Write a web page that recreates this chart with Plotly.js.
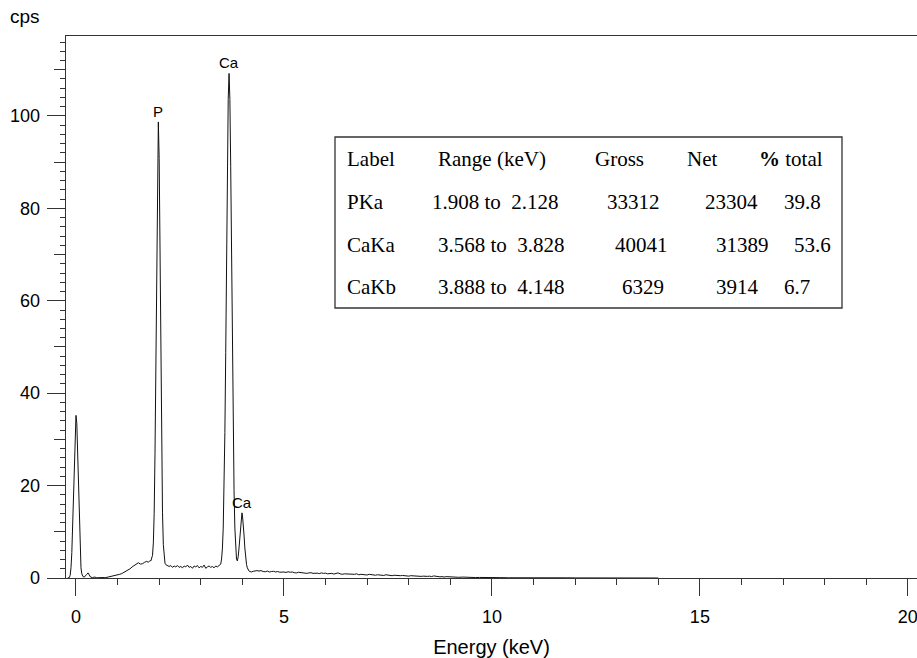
<!DOCTYPE html>
<html>
<head>
<meta charset="utf-8">
<script src="https://cdn.plot.ly/plotly-3.0.1.min.js"></script>
<style>html,body{margin:0;padding:0;background:#fff;}#chart{width:917px;height:658px;}</style>
</head>
<body>
<div id="chart"></div>
<script>
// ---- spectrum data ----
const energyKeV = [
 -0.20,-0.16,-0.14,-0.12,-0.10,-0.08,-0.06,-0.04,-0.02,0.00,0.02,0.04,0.06,0.08,0.10,0.12,0.14,0.17,0.20,0.23,0.26,0.29,0.32,0.35,0.40,0.45,0.50,0.55,0.60,0.65,0.70,0.75,0.80,0.85,0.90,0.95,
 1.00,1.05,1.10,1.15,1.20,1.25,1.30,1.35,1.40,1.45,1.50,1.55,1.60,1.65,1.70,1.74,1.78,1.80,1.82,1.84,1.86,1.88,1.90,1.92,1.94,1.96,1.98,2.00,2.02,2.04,2.06,2.08,2.10,2.12,2.14,2.17,
 2.20,2.24,2.28,2.32,2.36,2.40,2.44,2.48,2.52,2.56,2.60,2.64,2.68,2.72,2.76,2.80,2.84,2.88,2.92,2.96,3.00,3.04,3.08,3.12,3.16,3.20,3.24,3.28,3.32,3.36,3.40,3.44,3.48,
 3.50,3.52,3.54,3.56,3.58,3.60,3.62,3.64,3.66,3.68,3.70,3.72,3.74,3.76,3.78,3.80,3.82,3.84,3.86,3.88,3.90,3.92,3.94,3.96,3.98,3.99,4.00,4.02,4.04,4.06,4.08,4.10,4.12,4.14,4.16,
 4.18,4.22,4.26,4.30,4.35,4.40,4.45,4.50,4.55,4.60,4.65,4.70,4.75,4.80,4.85,4.90,4.95,5.00,5.05,5.10,5.15,5.20,5.25,5.30,5.35,5.40,5.45,5.50,5.55,5.60,5.65,5.70,5.75,5.80,5.85,5.90,5.95,
 6.00,6.05,6.10,6.15,6.20,6.25,6.30,6.35,6.40,6.45,6.50,6.55,6.60,6.65,6.70,6.75,6.80,6.85,6.90,6.95,7.00,7.05,7.10,7.15,7.20,7.25,7.30,7.35,7.40,7.45,7.50,7.55,7.60,7.65,7.70,7.75,7.80,7.85,7.90,7.95,
 8.00,8.05,8.10,8.15,8.20,8.25,8.30,8.35,8.40,8.45,8.50,8.55,8.60,8.65,8.70,8.75,8.80,8.85,8.90,8.95,9.00,9.10,9.20,9.30,9.40,9.50,9.60,9.70,9.80,9.90,
 10.0,10.2,10.4,10.6,10.8,11.0,11.2,11.4,11.6,11.8,12.0,12.3,12.6,13.0,13.4,13.8,14.0
];
const countsCps = [
 0,0.1,0.6,2.2,5.5,11,18,26,32.5,35.2,33.5,27,18.5,10.5,5,2.2,0.9,0.3,0.2,0.4,0.8,1.1,0.5,0.2,0.1,0.2,0.05,0.1,0.0,0.1,0.05,0.15,0.2,0.3,0.35,0.5,
 0.6,0.8,0.95,1.2,1.4,1.7,2.0,2.4,2.7,3.1,3.3,3.0,3.1,3.4,3.6,3.4,3.8,3.7,4.3,4.9,7.6,14,27,47,70.6,90.8,98.7,90.8,70.6,46.8,27,14.1,7.2,4.3,3.2,2.8,
 2.6,2.5,2.7,2.3,2.6,2.4,2.7,2.3,2.5,2.2,2.6,2.4,2.8,2.3,2.5,2.1,2.6,2.4,2.7,2.2,2.5,2.3,2.8,2.1,2.4,2.6,2.3,2.5,2.2,2.6,2.4,2.8,3.0,
 4.1,6.3,10.8,18.9,31.5,48.8,69.2,89,103.6,109.2,103.6,89,69.2,48.8,31.5,18.9,10.8,6.3,4.0,3.7,4.6,6.5,9.3,12,13.8,14.1,13.8,12,9.3,6.5,4.4,2.9,2.2,1.8,1.5,
 1.4,1.3,1.45,1.55,1.6,1.5,1.6,1.4,1.35,1.5,1.3,1.4,1.45,1.3,1.4,1.25,1.35,1.3,1.2,1.35,1.25,1.3,1.15,1.1,1.25,1.2,1.05,1.15,1.0,1.1,1.15,1.0,1.1,1.05,0.95,1.1,1.0,
 1.05,0.9,0.95,1.0,0.85,0.95,1.1,0.9,0.8,0.9,0.85,0.95,0.75,0.85,0.8,0.9,0.7,0.8,0.75,0.7,0.65,0.8,0.7,0.75,0.6,0.7,0.65,0.6,0.55,0.7,0.6,0.55,0.5,0.6,0.55,0.45,0.5,0.55,0.45,0.5,
 0.4,0.5,0.45,0.35,0.45,0.4,0.35,0.4,0.3,0.35,0.4,0.3,0.45,0.35,0.3,0.25,0.3,0.2,0.3,0.25,0.2,0.25,0.15,0.2,0.12,0.15,0.1,0.12,0.08,0.1,
 0.06,0.08,0.05,0.07,0.04,0.06,0.03,0.05,0.02,0.04,0.02,0.03,0.01,0.02,0.01,0.02,0
];

// peak labels
const peakLabels = ['P', 'Ca', 'Ca'];
const peakEnergy = [1.98, 3.68, 3.99];
const peakCps = [98.7, 109.2, 14.1];

// axis titles
const xTitle = 'Energy (keV)';
const yTitle = 'cps';

// quantification table
const tableHeader = ['Label', 'Range (keV)', 'Gross', 'Net', '<b>%</b> total'];
const lineLabel = ['PKa', 'CaKa', 'CaKb'];
const rangeLo = ['1.908', '3.568', '3.888'];
const rangeHi = ['2.128', '3.828', '4.148'];
const grossCounts = ['33312', '40041', '6329'];
const netCounts = ['23304', '31389', '3914'];
const pctTotal = ['39.8', '53.6', '6.7'];

// ---- layout geometry (pixels) ----
const W = 917, H = 658, ML = 66, MR = 0, MT = 36, MB = 80;
const px = v => (v - ML) / (W - ML - MR);
const py = v => (H - MB - v) / (H - MT - MB);
const headerX = [345, 436, 593, 685, 757];
const headerY = 159;
const rowY = [202, 245, 287];
const cellX = [[345, 430, 605, 703, 782], [345, 436, 613, 714, 792], [345, 436, 620, 714, 782]];

const sansFont = 'Liberation Sans, Arial, sans-serif';
const serifFont = 'Liberation Serif, Times New Roman, serif';
const axisCol = '#333';
const tableSize = 21;

const annotations = [];
peakLabels.forEach((t, i) => annotations.push({
  x: peakEnergy[i], y: peakCps[i], xref: 'x', yref: 'y', text: t, showarrow: false,
  xanchor: 'center', yanchor: 'bottom', yshift: 0, font: {family: sansFont, size: 15, color: '#000'}
}));
annotations.push({x: px(8), y: py(16), xref: 'paper', yref: 'paper', text: yTitle, showarrow: false,
  xanchor: 'left', yanchor: 'middle', font: {family: sansFont, size: 19, color: '#000'}});
tableHeader.forEach((t, j) => annotations.push({
  x: px(headerX[j]), y: py(headerY), xref: 'paper', yref: 'paper', text: t, showarrow: false,
  xanchor: 'left', yanchor: 'middle', font: {family: serifFont, size: tableSize, color: '#000'}
}));
lineLabel.forEach((lab, i) => {
  const cells = [lab, rangeLo[i] + ' to\u00a0\u00a0' + rangeHi[i], grossCounts[i], netCounts[i], pctTotal[i]];
  cells.forEach((t, j) => annotations.push({
    x: px(cellX[i][j]), y: py(rowY[i]), xref: 'paper', yref: 'paper', text: t, showarrow: false,
    xanchor: 'left', yanchor: 'middle', font: {family: serifFont, size: tableSize, color: '#000'}
  }));
});

const traces = [
  {x: energyKeV, y: countsCps, type: 'scatter', mode: 'lines', line: {color: '#111', width: 1}, hoverinfo: 'skip', showlegend: false},
  {x: [], y: [], type: 'scatter', mode: 'lines', yaxis: 'y2', hoverinfo: 'skip', showlegend: false}
];

const yRange = [0, 117.3];
const layout = {
  width: W, height: H,
  margin: {l: ML, r: MR, t: MT, b: MB, pad: 0},
  paper_bgcolor: '#fff', plot_bgcolor: '#fff',
  showlegend: false,
  font: {family: sansFont, color: '#000'},
  xaxis: {
    range: [-0.24, 20.22], tick0: 0, dtick: 5, ticks: 'outside', ticklen: 17, tickwidth: 1, tickcolor: axisCol,
    showline: true, linecolor: axisCol, linewidth: 1.3, mirror: true, showgrid: false, zeroline: false,
    minor: {tick0: 0, dtick: 1, ticks: 'outside', ticklen: 6, tickwidth: 1, tickcolor: axisCol, showgrid: false},
    tickfont: {family: sansFont, size: 18, color: '#000'}, ticklabelstandoff: 5, ticklabeloverflow: 'allow',
    title: {text: xTitle, font: {family: sansFont, size: 20, color: '#000'}, standoff: 14}
  },
  yaxis: {
    range: yRange, tick0: 0, dtick: 20, ticks: 'outside', ticklen: 18, tickwidth: 1, tickcolor: axisCol,
    showline: true, linecolor: axisCol, linewidth: 1.3, showgrid: false, zeroline: false,
    minor: {tick0: 0, dtick: 2, ticks: 'outside', ticklen: 5, tickwidth: 1, tickcolor: axisCol, showgrid: false},
    tickfont: {family: sansFont, size: 18, color: '#000'}, ticklabelstandoff: 3, ticklabeloverflow: 'allow'
  },
  yaxis2: {
    range: yRange, overlaying: 'y', anchor: 'x', side: 'left', tick0: 0, dtick: 10, ticks: 'outside', ticklen: 11,
    tickwidth: 1, tickcolor: axisCol, showticklabels: false, showline: false, showgrid: false, zeroline: false
  },
  shapes: [{type: 'rect', xref: 'paper', yref: 'paper', x0: px(335), x1: px(842), y0: py(308), y1: py(137),
    line: {color: '#333', width: 1.3}, fillcolor: 'rgba(255,255,255,0)', layer: 'above'}],
  annotations: annotations
};

Plotly.newPlot('chart', traces, layout, {staticPlot: true, displayModeBar: false});
</script>
</body>
</html>
